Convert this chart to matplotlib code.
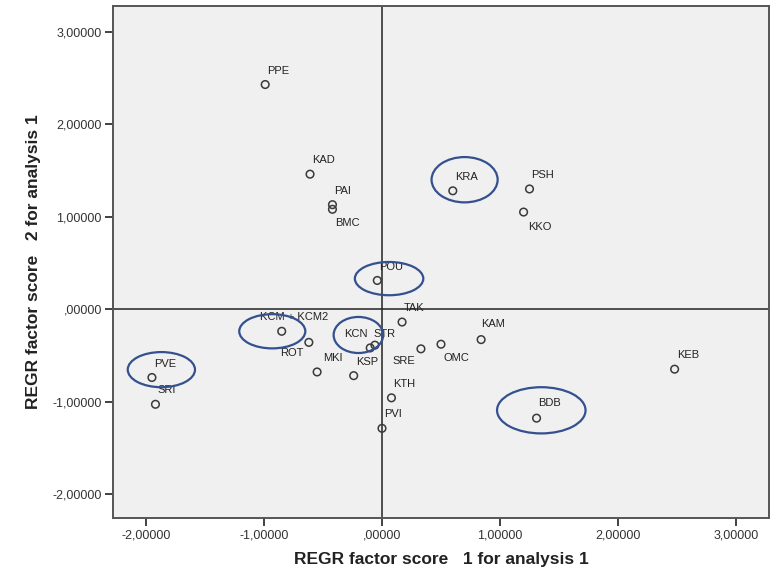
import matplotlib
matplotlib.use("Agg")
import matplotlib.pyplot as plt
from matplotlib.patches import Ellipse
from matplotlib.ticker import FuncFormatter

plt.rcParams['font.family'] = ['Liberation Sans', 'DejaVu Sans']

# factor scores
names = ["PPE", "KAD", "PAI", "BMC", "POU", "KRA", "PSH", "KKO", "TAK", "KAM",
         "OMC", "SRE", "KEB", "BDB", "KTH", "PVI", "KSP", "MKI", "KCN", "STR",
         "KCM + KCM2", "ROT", "PVE", "SRI"]
score1 = [-0.99, -0.61, -0.42, -0.42, -0.04, 0.60, 1.25, 1.20, 0.17, 0.84,
          0.50, 0.33, 2.48, 1.31, 0.08, 0.00, -0.24, -0.55, -0.10, -0.06,
          -0.85, -0.62, -1.95, -1.92]
score2 = [2.43, 1.46, 1.13, 1.08, 0.31, 1.28, 1.30, 1.05, -0.14, -0.33,
          -0.38, -0.43, -0.65, -1.18, -0.96, -1.29, -0.72, -0.68, -0.42, -0.39,
          -0.24, -0.36, -0.74, -1.03]

# label offsets in points (default: just above the marker)
offsets = {"BMC": (2, -10), "KKO": (3, -11), "OMC": (2, -10), "SRE": (-4, -9),
           "ROT": (-4, -8), "KCN": (-19, 10), "STR": (-1, 8),
           "KCM + KCM2": (9, 10), "MKI": (4, 10), "KSP": (2, 10),
           "KAM": (0, 11), "BDB": (1, 11)}
right_aligned = ["SRE", "ROT"]
centered = ["KCM + KCM2"]

# hand-drawn highlight ellipses: centre x, centre y, width, height
circled_x = [0.70, 0.06, -0.93, -0.20, -1.87, 1.35]
circled_y = [1.40, 0.33, -0.24, -0.28, -0.655, -1.095]
circled_w = [0.56, 0.58, 0.56, 0.42, 0.57, 0.75]
circled_h = [0.49, 0.36, 0.37, 0.39, 0.38, 0.50]

xticks = [-2, -1, 0, 1, 2, 3]
yticks = [-2, -1, 0, 1, 2, 3]

fig = plt.figure(figsize=(7.76, 5.74), dpi=100)
ax = fig.add_axes([0.1456, 0.0976, 0.8454, 0.892])
ax.set_facecolor("#f0f0f0")

ax.axhline(0, color="#222222", lw=1.1, zorder=1)
ax.axvline(0, color="#222222", lw=1.1, zorder=1)

ax.scatter(score1, score2, s=30, facecolors="none", edgecolors="#3a3a3a",
           linewidths=1.1, zorder=3)

for n, x, y in zip(names, score1, score2):
    dx, dy = offsets.get(n, (1.5, 10))
    ha = "left"
    if n in right_aligned:
        ha = "right"
    if n in centered:
        ha = "center"
    ax.annotate(n, (x, y), xytext=(dx, dy), textcoords="offset points",
                ha=ha, va="center", fontsize=8, color="#222222", zorder=4)

for cx, cy, w, h in zip(circled_x, circled_y, circled_w, circled_h):
    ax.add_patch(Ellipse((cx, cy), w, h, fill=False, edgecolor="#34508f",
                         lw=1.6, zorder=5))

ax.set_xlim(-2.28, 3.28)
ax.set_ylim(-2.26, 3.28)
ax.set_xticks(xticks)
ax.set_yticks(yticks)

fmt = FuncFormatter(lambda v, p: ",00000" if v == 0 else ("%.5f" % v).replace(".", ","))
ax.xaxis.set_major_formatter(fmt)
ax.yaxis.set_major_formatter(fmt)
ax.tick_params(direction="out", length=6, width=1.3, color="#333333",
               labelsize=9, labelcolor="#333333", pad=2)

for s in ax.spines.values():
    s.set_color("#555555")
    s.set_linewidth(1.4)

ax.set_xlabel("REGR factor score   1 for analysis 1", fontsize=12.5,
              fontweight="bold", color="#222222", labelpad=8)
ax.set_ylabel("REGR factor score   2 for analysis 1", fontsize=12.5,
              fontweight="bold", color="#222222", labelpad=8)

fig.savefig("out.png", dpi=100)
